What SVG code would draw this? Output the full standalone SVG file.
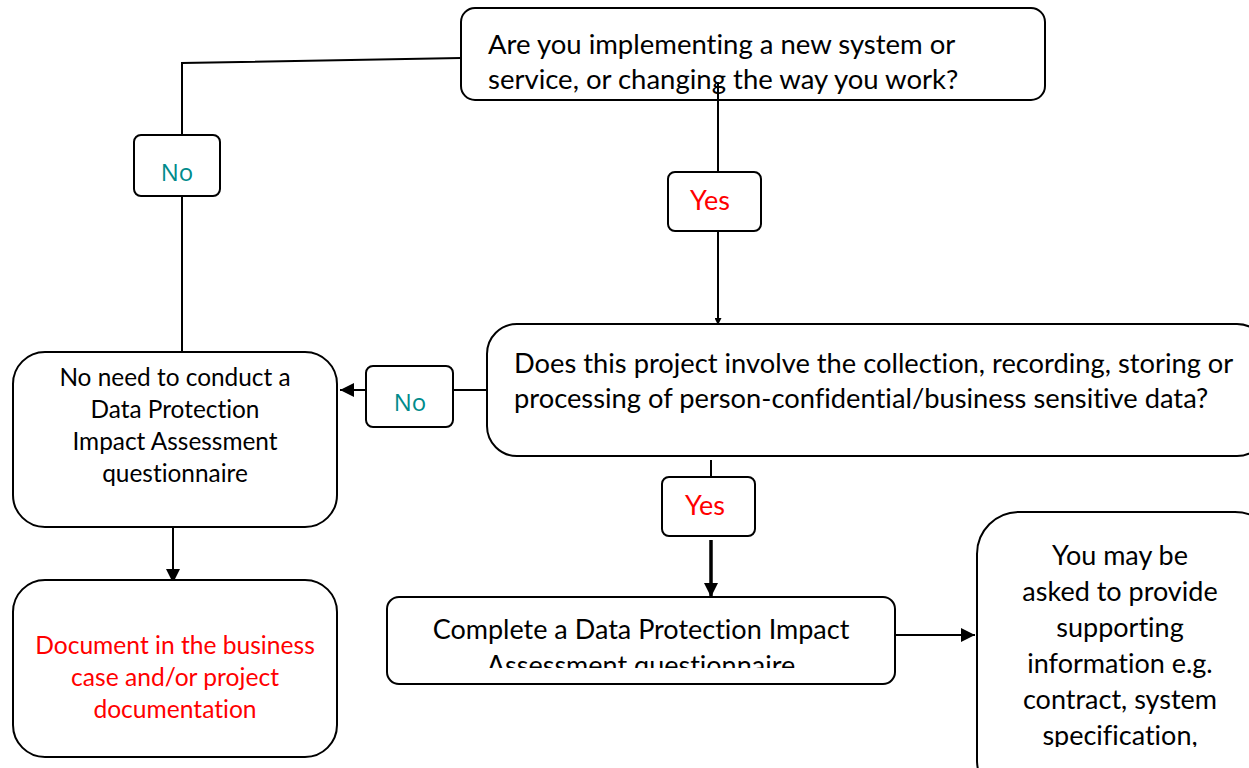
<svg xmlns="http://www.w3.org/2000/svg" width="1249" height="768" viewBox="0 0 1249 768">
  <style>
    .box { fill: #fff; stroke: #000; stroke-width: 2; }
    .tag { fill: #fff; stroke: #000; stroke-width: 2; }
    .line { fill: none; stroke: #000; stroke-width: 2; }
    .t { font-family: Lato, "Liberation Sans", sans-serif; fill: #000; font-variant-ligatures: none; }
    .red { fill: #ff0000; }
    .teal { font-family: "Open Sans", "Liberation Sans", sans-serif; fill: #008b8b; }
  </style>
  <defs>
    <marker id="arrow" viewBox="0 0 10 10" refX="10" refY="5" markerWidth="7" markerHeight="7" markerUnits="userSpaceOnUse" orient="auto">
      <path d="M0,0 L10,5 L0,10 Z" fill="#000"/>
    </marker>
    <marker id="arrowBig" viewBox="0 0 10 10" refX="10" refY="5" markerWidth="14" markerHeight="14" markerUnits="userSpaceOnUse" orient="auto">
      <path d="M0,0 L10,5 L0,10 Z" fill="#000"/>
    </marker>
    <clipPath id="clipComplete"><rect x="388" y="598" width="506" height="70"/></clipPath>
    <clipPath id="clipSupport"><rect x="978" y="513" width="271" height="234"/></clipPath>
  </defs>

  <!-- connectors -->
  <g id="connectors">
    <polyline class="line" points="461,58 182,63 182,352"/>
    <line class="line" x1="718" y1="82" x2="718" y2="325" marker-end="url(#arrow)"/>
    <line class="line" x1="487" y1="390" x2="340" y2="390" marker-end="url(#arrowBig)"/>
    <line class="line" x1="173" y1="517" x2="173" y2="583" marker-end="url(#arrowBig)"/>
    <line class="line" x1="711" y1="460" x2="711" y2="478"/>
    <line x1="711" y1="540" x2="711" y2="597" stroke="#000" stroke-width="3.5" marker-end="url(#arrowBig)"/>
    <line class="line" x1="895" y1="635" x2="975" y2="635" marker-end="url(#arrowBig)"/>
  </g>

  <!-- question: new system -->
  <g id="q-new-system">
    <rect class="box" x="461" y="8" width="584" height="92" rx="14"/>
    <text class="t" font-size="27.5" x="488" y="54">Are you implementing a new system or</text>
    <text class="t" font-size="27.5" x="488" y="89">service, or changing the way you work?</text>
  </g>
  <line class="line" x1="718" y1="82" x2="718" y2="100"/>

  <!-- question: personal data -->
  <g id="q-personal-data">
    <rect class="box" x="487" y="324" width="780" height="132" rx="30"/>
    <text class="t" font-size="27.3" x="514" y="373">Does this project involve the collection, recording, storing or</text>
    <text class="t" font-size="27.3" x="514" y="408">processing of person-confidential/business sensitive data?</text>
  </g>

  <!-- outcome: no DPIA needed -->
  <g id="no-need">
    <rect class="box" x="13" y="352" width="324" height="175" rx="32"/>
    <text class="t" font-size="24.4" text-anchor="middle" x="175" y="386">No need to conduct a</text>
    <text class="t" font-size="24.4" text-anchor="middle" x="175" y="418">Data Protection</text>
    <text class="t" font-size="24.4" text-anchor="middle" x="175" y="450">Impact Assessment</text>
    <text class="t" font-size="24.4" text-anchor="middle" x="175" y="482">questionnaire</text>
  </g>

  <!-- outcome: document it -->
  <g id="document">
    <rect class="box" x="13" y="580" width="324" height="177" rx="32"/>
    <text class="t red" font-size="24.6" text-anchor="middle" x="175" y="654">Document in the business</text>
    <text class="t red" font-size="24.6" text-anchor="middle" x="175" y="686">case and/or project</text>
    <text class="t red" font-size="24.6" text-anchor="middle" x="175" y="718">documentation</text>
  </g>

  <!-- outcome: complete DPIA -->
  <g id="complete-dpia">
    <rect class="box" x="387" y="597" width="508" height="87" rx="12"/>
    <g clip-path="url(#clipComplete)">
      <text class="t" font-size="27" text-anchor="middle" x="641" y="639">Complete a Data Protection Impact</text>
      <text class="t" font-size="27" text-anchor="middle" x="641" y="675">Assessment questionnaire</text>
    </g>
  </g>

  <!-- outcome: supporting info -->
  <g id="supporting-info">
    <rect class="box" x="977" y="512" width="300" height="290" rx="42"/>
    <g clip-path="url(#clipSupport)">
      <text class="t" font-size="27" text-anchor="middle" x="1120" y="565">You may be</text>
      <text class="t" font-size="27" text-anchor="middle" x="1120" y="601">asked to provide</text>
      <text class="t" font-size="27" text-anchor="middle" x="1120" y="637">supporting</text>
      <text class="t" font-size="27" text-anchor="middle" x="1120" y="673">information e.g.</text>
      <text class="t" font-size="27" text-anchor="middle" x="1120" y="709">contract, system</text>
      <text class="t" font-size="27" text-anchor="middle" x="1120" y="745">specification,</text>
    </g>
  </g>

  <!-- branch labels -->
  <g id="label-no-top">
    <rect class="tag" x="134" y="135" width="86" height="61" rx="7"/>
    <text class="teal" font-size="24" text-anchor="middle" x="177" y="181">No</text>
  </g>
  <g id="label-yes-top">
    <rect class="tag" x="668" y="172" width="93" height="59" rx="7"/>
    <text class="t red" font-size="27" text-anchor="middle" x="710" y="210">Yes</text>
  </g>
  <g id="label-no-mid">
    <rect class="tag" x="366" y="366" width="87" height="61" rx="7"/>
    <text class="teal" font-size="24" text-anchor="middle" x="410" y="411">No</text>
  </g>
  <g id="label-yes-mid">
    <rect class="tag" x="662" y="477" width="93" height="59" rx="7"/>
    <text class="t red" font-size="27" text-anchor="middle" x="705" y="515">Yes</text>
  </g>
</svg>
